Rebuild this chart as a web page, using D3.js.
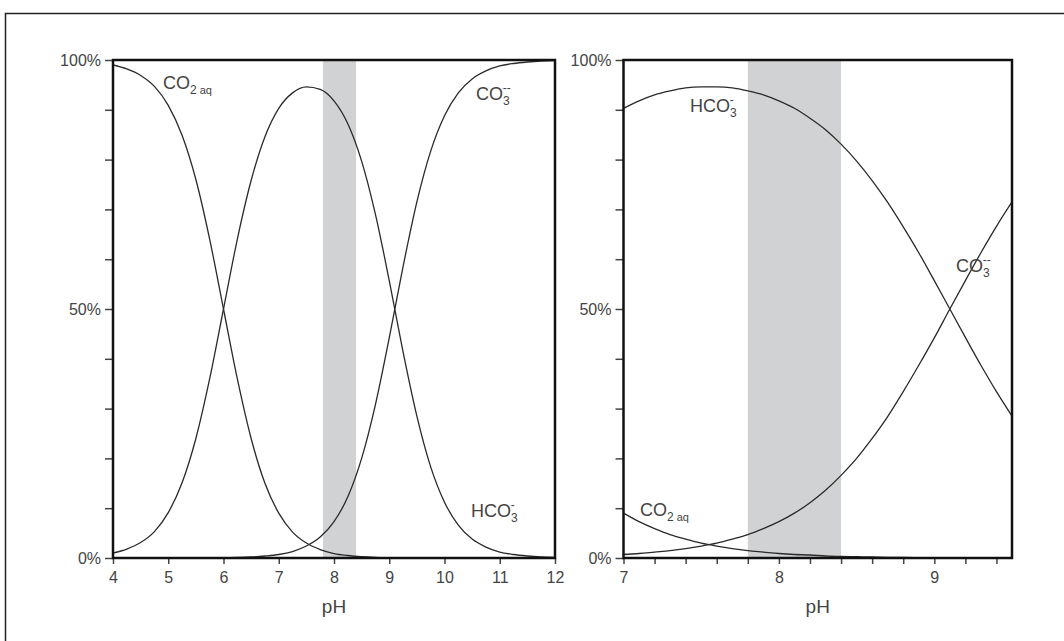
<!DOCTYPE html>
<html>
<head>
<meta charset="utf-8">
<script src="https://cdn.jsdelivr.net/npm/d3@7"></script>
<style>
  body { margin: 0; background: #fff; }
  svg { display: block; font-family: "Liberation Sans", Arial, sans-serif; }
</style>
</head>
<body>
<div id="chart"></div>
<script>
// left panel: pH 4..12, step 0.25 (fractions)
var phLeft = [4, 4.25, 4.5, 4.75, 5, 5.25, 5.5, 5.75, 6, 6.25, 6.5, 6.75, 7, 7.25, 7.5, 7.75,
  8, 8.25, 8.5, 8.75, 9, 9.25, 9.5, 9.75, 10, 10.25, 10.5, 10.75, 11, 11.25, 11.5, 11.75, 12];
var co2Left = [0.990, 0.982, 0.969, 0.947, 0.909, 0.849, 0.760, 0.640, 0.500, 0.360, 0.240, 0.150,
  0.090, 0.052, 0.030, 0.017, 0.009, 0.005, 0.0025, 0.0012, 0.0006, 0.0002, 0, 0, 0, 0, 0, 0, 0, 0, 0, 0, 0];
var hco3Left = [0.010, 0.018, 0.031, 0.053, 0.091, 0.151, 0.240, 0.360, 0.500, 0.640, 0.758, 0.846,
  0.903, 0.934, 0.946, 0.941, 0.918, 0.872, 0.797, 0.690, 0.557, 0.414, 0.285, 0.183, 0.112, 0.066,
  0.038, 0.022, 0.012, 0.007, 0.004, 0.002, 0.001];
var co3Left = [0, 0, 0, 0, 0, 0, 0, 0, 0.0004, 0.001, 0.002, 0.004, 0.007, 0.013, 0.024, 0.042,
  0.073, 0.123, 0.200, 0.308, 0.442, 0.585, 0.715, 0.817, 0.888, 0.934, 0.962, 0.978, 0.988,
  0.993, 0.996, 0.998, 0.999];

// right panel: pH 7..9.5, step 0.1
var phRight = [7, 7.1, 7.2, 7.3, 7.4, 7.5, 7.6, 7.7, 7.8, 7.9, 8, 8.1, 8.2, 8.3, 8.4, 8.5,
  8.6, 8.7, 8.8, 8.9, 9, 9.1, 9.2, 9.3, 9.4, 9.5];
var co2Right = [0.090, 0.073, 0.059, 0.047, 0.038, 0.030, 0.024, 0.019, 0.015, 0.012, 0.009,
  0.007, 0.006, 0.004, 0.003, 0.0025, 0.002, 0.0014, 0.001, 0.0008, 0.0006, 0.0004, 0.0003,
  0.0002, 0.0002, 0.0001];
var hco3Right = [0.903, 0.918, 0.930, 0.938, 0.944, 0.946, 0.946, 0.944, 0.938, 0.930, 0.918,
  0.903, 0.883, 0.860, 0.831, 0.797, 0.758, 0.714, 0.665, 0.613, 0.557, 0.500, 0.443, 0.387,
  0.334, 0.285];
var co3Right = [0.007, 0.009, 0.012, 0.015, 0.019, 0.024, 0.030, 0.038, 0.047, 0.059, 0.073,
  0.090, 0.111, 0.136, 0.166, 0.200, 0.240, 0.284, 0.334, 0.387, 0.442, 0.500, 0.557, 0.613,
  0.666, 0.715];

// shaded pH band, ticks
var band = [7.8, 8.4];
var yTicks = [0, 0.1, 0.2, 0.3, 0.4, 0.5, 0.6, 0.7, 0.8, 0.9, 1];
var yTickLabels = { "0": "0%", "0.5": "50%", "1": "100%" };
var xTicksLeft = [4, 5, 6, 7, 8, 9, 10, 11, 12];
var xTicksRight = [7, 7.2, 7.4, 7.6, 7.8, 8, 8.2, 8.4, 8.6, 8.8, 9, 9.2, 9.4];
var xTickLabelsRight = [7, 8, 9];

var svgWidth = 1064;
var svgHeight = 641;

var svg = d3.select("#chart")
  .append("svg")
  .attr("width", svgWidth)
  .attr("height", svgHeight);

// outer frame
svg.append("rect")
  .attr("x", 5.5)
  .attr("y", 13.5)
  .attr("width", 1100)
  .attr("height", 700)
  .attr("fill", "none")
  .attr("stroke", "#222")
  .attr("stroke-width", 1.5);

var yScale = d3.scaleLinear().domain([0, 1]).range([558, 60]);

function drawPanel(id, xScale, xTicks, xLabelFn, series, labels) {
  var x0 = xScale.range()[0], x1 = xScale.range()[1];
  var y0 = yScale.range()[1], y1 = yScale.range()[0];

  var g = svg.append("g");

  // shaded band
  g.append("rect")
    .attr("x", xScale(band[0]))
    .attr("y", y0)
    .attr("width", xScale(band[1]) - xScale(band[0]))
    .attr("height", y1 - y0)
    .attr("fill", "#d1d2d4");

  // clip
  svg.append("clipPath").attr("id", id)
    .append("rect")
    .attr("x", x0).attr("y", y0)
    .attr("width", x1 - x0).attr("height", y1 - y0);

  // curves
  series.forEach(function(s) {
    var pts = s.ph.map(function(p, i) { return [p, s.v[i]]; });
    var line = d3.line()
      .x(d => xScale(d[0]))
      .y(d => yScale(d[1]))
      .curve(d3.curveMonotoneX);
    g.append("path")
      .attr("d", line(pts))
      .attr("clip-path", "url(#" + id + ")")
      .attr("fill", "none")
      .attr("stroke", "#2a2a2a")
      .attr("stroke-width", 1.3);
  });

  // axes
  var leftAxis = d3.axisLeft(yScale)
    .tickValues(yTicks)
    .tickSize(8)
    .tickPadding(4)
    .tickFormat(d => yTickLabels[String(d)] || "");
  var bottomAxis = d3.axisBottom(xScale)
    .tickValues(xTicks)
    .tickSize(6)
    .tickPadding(8)
    .tickFormat(xLabelFn);

  var ay = g.append("g").attr("transform", `translate(${x0}, 0)`).call(leftAxis);
  var ax = g.append("g").attr("transform", `translate(0, ${y1})`).call(bottomAxis);
  [ay, ax].forEach(function(a) {
    a.select(".domain").remove();
    a.selectAll("line").attr("stroke", "#444").attr("stroke-width", 1.5);
    a.selectAll("text").attr("fill", "#444").attr("font-size", "16px")
      .attr("font-family", "Liberation Sans, Arial, sans-serif");
  });

  // frame
  g.append("rect")
    .attr("x", x0).attr("y", y0)
    .attr("width", x1 - x0).attr("height", y1 - y0)
    .attr("fill", "none")
    .attr("stroke", "#111")
    .attr("stroke-width", 2.5);

  // pH label
  g.append("text")
    .attr("x", (x0 + x1) / 2)
    .attr("y", 613)
    .attr("text-anchor", "middle")
    .attr("font-size", "19px")
    .attr("fill", "#444")
    .text("pH");

  // species labels
  labels.forEach(function(l) {
    var t = g.append("text")
      .attr("x", l.x)
      .attr("y", l.y)
      .attr("font-size", "18px")
      .attr("fill", "#444");
    t.append("tspan").text(l.base);
    if (l.sub) {
      t.append("tspan").attr("font-size", "12px").attr("dy", 5).text(l.sub);
    }
    if (l.aq) {
      t.append("tspan").attr("font-size", "11px").attr("dx", 3).text("aq");
    }
    if (l.sup) {
      t.append("tspan").attr("font-size", "12px").attr("dx", -7).attr("dy", -13).text(l.sup);
    }
  });
}

var xLeft = d3.scaleLinear().domain([4, 12]).range([113, 555]);
var xRight = d3.scaleLinear().domain([7, 9.5]).range([623.5, 1012]);

drawPanel("clipL", xLeft, xTicksLeft, d => d,
  [
    { ph: phLeft, v: co2Left },
    { ph: phLeft, v: hco3Left },
    { ph: phLeft, v: co3Left }
  ],
  [
    { x: 163, y: 89, base: "CO", sub: "2", aq: true },
    { x: 476, y: 100, base: "CO", sub: "3", sup: "--" },
    { x: 471, y: 517, base: "HCO", sub: "3", sup: "-" }
  ]);

drawPanel("clipR", xRight, xTicksRight,
  d => (xTickLabelsRight.indexOf(d) >= 0 ? d : ""),
  [
    { ph: phRight, v: co2Right },
    { ph: phRight, v: hco3Right },
    { ph: phRight, v: co3Right }
  ],
  [
    { x: 690, y: 112, base: "HCO", sub: "3", sup: "-" },
    { x: 956, y: 272, base: "CO", sub: "3", sup: "--" },
    { x: 640, y: 516, base: "CO", sub: "2", aq: true }
  ]);
</script>
</body>
</html>
